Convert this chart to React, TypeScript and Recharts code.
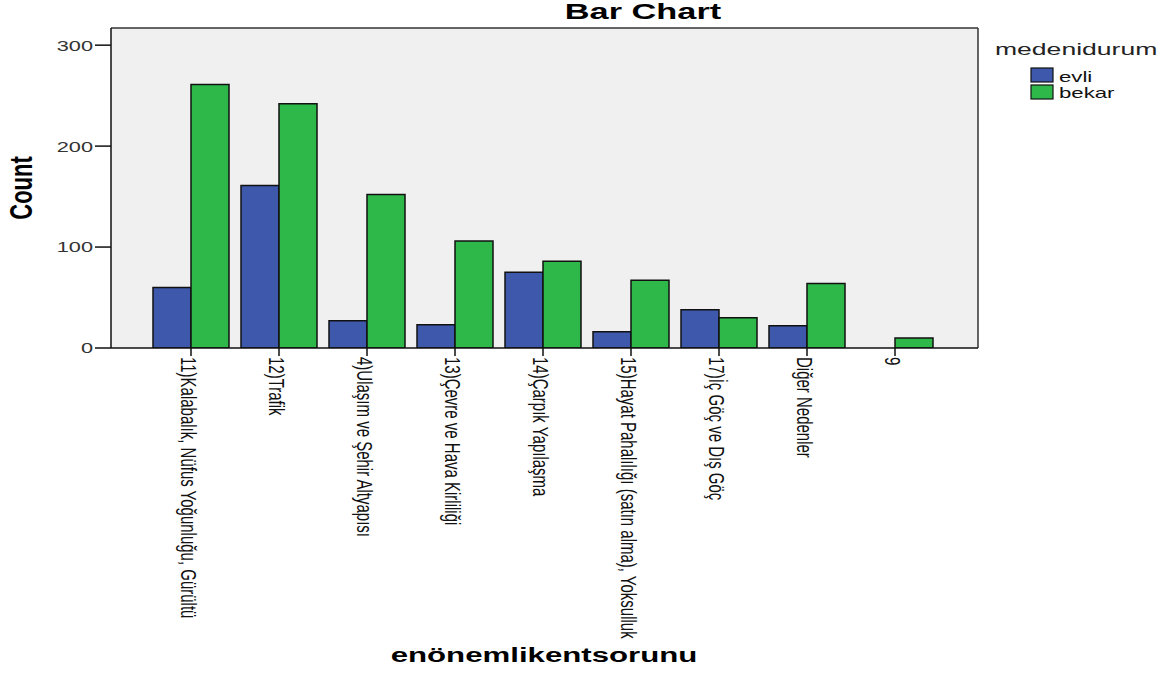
import { BarChart, Bar, XAxis, YAxis, CartesianGrid, Legend } from "recharts";

const categories = [
  "11)Kalabalık, Nüfus Yoğunluğu, Gürültü",
  "12)Trafik",
  "4)Ulaşım ve Şehir Altyapısı",
  "13)Çevre ve Hava Kirliliği",
  "14)Çarpık Yapılaşma",
  "15)Hayat Pahalılığı (satın alma), Yoksulluk",
  "17)İç Göç ve Dış Göç",
  "Diğer Nedenler",
  "9",
];
const evli = [60, 161, 27, 23, 75, 16, 38, 22, 0];
const bekar = [261, 242, 152, 106, 86, 67, 30, 64, 10];
const yTicks = [0, 100, 200, 300];
const seriesOrder = ["evli", "bekar"];

const data = categories.map((name, i) => ({ name, evli: evli[i], bekar: bekar[i] }));

const FONT = "'Liberation Sans', Arial, sans-serif";
const BLUE = "#3e58ab";
const GREEN = "#2eb84a";

function XTick({ x, y, payload }: any) {
  return (
    <g transform={`translate(${x - 10}, ${y}) scale(1.45, 1) rotate(90)`}>
      <text x={0} y={0} textAnchor="start" fontFamily={FONT} fontSize={15} fill="#111">
        {payload.value}
      </text>
    </g>
  );
}

function YTick({ x, y, payload }: any) {
  return (
    <g transform={`translate(${x}, ${y}) scale(1.45, 1)`}>
      <text x={0} y={0} dy="0.36em" textAnchor="end" fontFamily={FONT} fontSize={15} fill="#333">
        {payload.value}
      </text>
    </g>
  );
}

function CountLabel() {
  return (
    <g transform="translate(32, 188) scale(1.4, 1) rotate(-90)">
      <text x={0} y={0} textAnchor="middle" fontFamily={FONT} fontWeight="bold" fontSize={22} fill="#000">
        Count
      </text>
    </g>
  );
}

function XTitle() {
  return (
    <g transform="translate(544, 662) scale(1.6, 1)">
      <text x={0} y={0} textAnchor="middle" fontFamily={FONT} fontWeight="bold" fontSize={19.5} fill="#000">
        enönemlikentsorunu
      </text>
    </g>
  );
}

function renderLegend(props: any) {
  const items = [...(props.payload || [])].sort(
    (a: any, b: any) => seriesOrder.indexOf(a.value) - seriesOrder.indexOf(b.value)
  );
  return (
    <svg width={184} height={80}>
      <g transform="translate(10, 25) scale(1.66, 1)">
        <text x={0} y={0} fontFamily={FONT} fontSize={16} fill="#222">
          medenidurum
        </text>
      </g>
      {items.map((item: any, i: number) => (
        <g key={item.value}>
          <rect x={46} y={38 + i * 17} width={22} height={14} fill={item.color} stroke="#111" strokeWidth={1.2} />
          <g transform={`translate(74, ${52 + i * 16}) scale(1.48, 1)`}>
            <text x={0} y={0} fontFamily={FONT} fontSize={15} fill="#111">
              {item.value}
            </text>
          </g>
        </g>
      ))}
    </svg>
  );
}

export default function App() {
  return (
    <div style={{ position: "absolute", left: 0, top: 0, width: 1169, height: 675, background: "#fff" }}>
      <svg width={1169} height={30} style={{ position: "absolute", left: 0, top: 0 }}>
        <g transform="translate(643, 19) scale(1.56, 1)">
          <text x={0} y={0} textAnchor="middle" fontFamily={FONT} fontWeight="bold" fontSize={22} fill="#000">
            Bar Chart
          </text>
        </g>
      </svg>
      <BarChart
        width={1169}
        height={675}
        data={data}
        margin={{ top: 28, right: 191, bottom: 7, left: 0 }}
        barCategoryGap={6}
        barGap={0}
      >
        <CartesianGrid
          fill="#f0f0f0"
          stroke="#333"
          strokeWidth={1.5}
          horizontalCoordinatesGenerator={({ offset }: any) => [offset.top]}
          verticalCoordinatesGenerator={({ offset }: any) => [offset.left + offset.width]}
        />
        <XAxis
          dataKey="name"
          interval={0}
          height={320}
          padding={{ left: 36, right: 39 }}
          axisLine={{ stroke: "#111", strokeWidth: 1.5 }}
          tickLine={{ stroke: "#111", strokeWidth: 1.5 }}
          tickSize={8}
          tickMargin={1}
          tick={(p: any) => <XTick {...p} />}
          label={<XTitle />}
        />
        <YAxis
          width={111}
          domain={[0, 317]}
          ticks={yTicks}
          allowDataOverflow
          axisLine={{ stroke: "#111", strokeWidth: 1.5 }}
          tickLine={{ stroke: "#111", strokeWidth: 1.5 }}
          tickSize={16}
          tickMargin={2}
          tick={(p: any) => <YTick {...p} />}
          label={<CountLabel />}
        />
        <Legend
          layout="horizontal"
          verticalAlign="middle"
          align="center"
          content={renderLegend}
          wrapperStyle={{ position: "absolute", left: 985, top: 30, width: 184, height: 80 }}
        />
        <Bar dataKey="evli" name="evli" fill={BLUE} stroke="#111" strokeWidth={1.5} isAnimationActive={false} />
        <Bar dataKey="bekar" name="bekar" fill={GREEN} stroke="#111" strokeWidth={1.5} isAnimationActive={false} />
      </BarChart>
    </div>
  );
}
